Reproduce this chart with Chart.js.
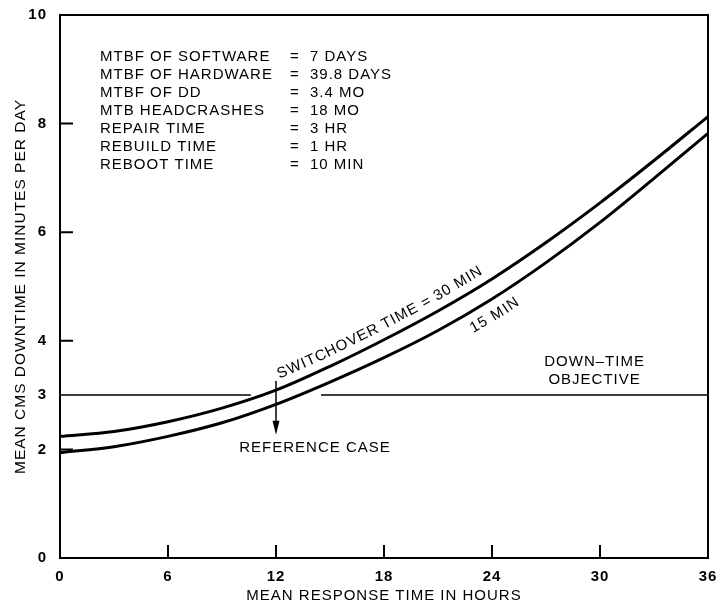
<!DOCTYPE html>
<html>
<head>
<meta charset="utf-8">
<script src="https://cdn.jsdelivr.net/npm/chart.js@4.4.1/dist/chart.umd.min.js"></script>
<style>
  html, body { margin: 0; padding: 0; background: #fff; overflow: hidden; }
  #wrap { width: 721px; height: 605px; }
</style>
</head>
<body>
<div id="wrap"><canvas id="chart"></canvas></div>
<script>
// mean response time in hours
const hours = [0, 3, 6, 9, 12, 15, 18, 21, 24, 27, 30, 33, 36];
// mean CMS downtime (min/day) for switchover time = 30 min and 15 min
const switch30 = [2.24, 2.33, 2.51, 2.76, 3.09, 3.53, 4.02, 4.55, 5.14, 5.81, 6.54, 7.32, 8.13];
const switch15 = [1.94, 2.05, 2.24, 2.49, 2.83, 3.24, 3.69, 4.19, 4.77, 5.44, 6.18, 6.99, 7.82];

// down-time objective, broken where the curves pass through it
const objectiveLevel = 3;
const objectiveLeftX = [0, 10.6];
const objectiveRightX = [14.5, 36];

// reference case arrow (x, top, tip)
const refCaseX = 12;
const refCaseY = [3.26, 2.27];

const xTicks = [0, 6, 12, 18, 24, 30, 36];
const yTicks = [0, 2, 3, 4, 6, 8, 10];
const xInnerTicks = [6, 12, 18, 24, 30];
const yInnerTicks = [2, 4, 6, 8];

const paramNames = ['MTBF OF SOFTWARE', 'MTBF OF HARDWARE', 'MTBF OF DD', 'MTB HEADCRASHES',
  'REPAIR TIME', 'REBUILD TIME', 'REBOOT TIME'];
const paramValues = ['7 DAYS', '39.8 DAYS', '3.4 MO', '18 MO', '3 HR', '1 HR', '10 MIN'];

const FAMILY = '"Liberation Sans", Arial, Helvetica, sans-serif';
const FONT = '15px ' + FAMILY;

// writes text letter by letter along a polyline (pixel points)
function textOnCurve(ctx, text, pts, startPx, offset, spacing) {
  const cum = [0];
  for (let i = 1; i < pts.length; i++) {
    cum.push(cum[i - 1] + Math.hypot(pts[i].x - pts[i - 1].x, pts[i].y - pts[i - 1].y));
  }
  const pointAt = s => {
    let i = 1;
    while (i < pts.length - 1 && cum[i] < s) i++;
    const t = (s - cum[i - 1]) / (cum[i] - cum[i - 1]);
    return { x: pts[i - 1].x + t * (pts[i].x - pts[i - 1].x), y: pts[i - 1].y + t * (pts[i].y - pts[i - 1].y) };
  };
  let s = 0;
  for (let i = 1; i < pts.length; i++) {
    if (pts[i].x >= startPx) {
      s = cum[i - 1] + (startPx - pts[i - 1].x) / (pts[i].x - pts[i - 1].x) * (cum[i] - cum[i - 1]);
      break;
    }
  }
  ctx.textAlign = 'center';
  ctx.textBaseline = 'alphabetic';
  for (const ch of text) {
    const w = ctx.measureText(ch).width;
    const mid = s + w / 2;
    const p = pointAt(mid), p0 = pointAt(mid - 7), p1 = pointAt(mid + 7);
    const ang = Math.atan2(p1.y - p0.y, p1.x - p0.x);
    ctx.save();
    ctx.translate(p.x, p.y);
    ctx.rotate(ang);
    ctx.fillText(ch, 0, offset);
    ctx.restore();
    s += w + spacing;
  }
}

const annotations = {
  id: 'annotations',
  beforeDraw(chart) {
    const ctx = chart.ctx;
    ctx.save();
    ctx.fillStyle = '#fff';
    ctx.fillRect(0, 0, chart.width, chart.height);
    ctx.restore();
    ctx.letterSpacing = '1px';
  },
  afterDatasetsDraw(chart) {
    const { ctx, chartArea: a, scales: { x, y } } = chart;
    ctx.save();
    ctx.strokeStyle = '#000';
    ctx.fillStyle = '#000';

    // frame
    ctx.lineWidth = 2;
    ctx.strokeRect(a.left, a.top, a.right - a.left, a.bottom - a.top);

    // inner tick marks
    ctx.beginPath();
    xInnerTicks.forEach(v => {
      const px = x.getPixelForValue(v);
      ctx.moveTo(px, a.bottom);
      ctx.lineTo(px, a.bottom - 13);
    });
    yInnerTicks.forEach(v => {
      const py = y.getPixelForValue(v);
      ctx.moveTo(a.left, py);
      ctx.lineTo(a.left + 13, py);
    });
    ctx.stroke();

    // reference case arrow
    const ax = x.getPixelForValue(refCaseX);
    const aTop = y.getPixelForValue(refCaseY[0]);
    const aTip = y.getPixelForValue(refCaseY[1]);
    ctx.lineWidth = 1.5;
    ctx.beginPath();
    ctx.moveTo(ax, aTop);
    ctx.lineTo(ax, aTip - 10);
    ctx.stroke();
    ctx.beginPath();
    ctx.moveTo(ax, aTip);
    ctx.lineTo(ax - 3.5, aTip - 14);
    ctx.lineTo(ax + 3.5, aTip - 14);
    ctx.closePath();
    ctx.fill();

    ctx.font = FONT;
    ctx.letterSpacing = '1px';
    ctx.textBaseline = 'middle';

    // parameter block
    paramNames.forEach((name, i) => {
      const ty = a.top + 42 + i * 18;
      ctx.textAlign = 'left';
      ctx.fillText(name, a.left + 40, ty);
      ctx.fillText('=', a.left + 230, ty);
      ctx.fillText(paramValues[i], a.left + 250, ty);
    });

    // reference case
    ctx.textAlign = 'center';
    ctx.fillText('REFERENCE CASE', ax + 39, aTip + 13);

    // objective label
    const oy = y.getPixelForValue(objectiveLevel);
    ctx.fillText('DOWN\u2013TIME', x.getPixelForValue(29.7), oy - 33);
    ctx.fillText('OBJECTIVE', x.getPixelForValue(29.7), oy - 15);

    // curve labels
    ctx.letterSpacing = '0px';
    const up = hours.map((h, i) => ({ x: x.getPixelForValue(h), y: y.getPixelForValue(switch30[i]) }));
    const lo = hours.map((h, i) => ({ x: x.getPixelForValue(h), y: y.getPixelForValue(switch15[i]) }));
    textOnCurve(ctx, 'SWITCHOVER TIME = 30 MIN', up, x.getPixelForValue(12.4), -9, 1);
    textOnCurve(ctx, '15 MIN', lo, x.getPixelForValue(22.4), 20, 1);

    ctx.restore();
  }
};

const curve = (xs, ys) => xs.map((h, i) => ({ x: h, y: ys[i] }));

new Chart(document.getElementById('chart'), {
  type: 'line',
  data: {
    datasets: [
      {
        label: 'Switchover time = 30 min',
        data: curve(hours, switch30),
        borderColor: '#000',
        borderWidth: 3,
        pointRadius: 0,
        cubicInterpolationMode: 'monotone'
      },
      {
        label: '15 min',
        data: curve(hours, switch15),
        borderColor: '#000',
        borderWidth: 3,
        pointRadius: 0,
        cubicInterpolationMode: 'monotone'
      },
      {
        label: 'Down-time objective',
        data: objectiveLeftX.map(v => ({ x: v, y: objectiveLevel })),
        borderColor: '#000',
        borderWidth: 1.5,
        pointRadius: 0
      },
      {
        label: 'Down-time objective (right)',
        data: objectiveRightX.map(v => ({ x: v, y: objectiveLevel })),
        borderColor: '#000',
        borderWidth: 1.5,
        pointRadius: 0
      }
    ]
  },
  options: {
    responsive: true,
    maintainAspectRatio: false,
    animation: false,
    devicePixelRatio: 1,
    layout: { padding: { top: 15, right: 13, left: 0, bottom: 0 } },
    plugins: {
      legend: { display: false },
      tooltip: { enabled: false }
    },
    scales: {
      x: {
        type: 'linear',
        min: 0,
        max: 36,
        afterBuildTicks: s => { s.ticks = xTicks.map(v => ({ value: v })); },
        afterFit: s => { s.height = 47; s.paddingLeft = 0; s.paddingRight = 0; },
        grid: { display: false, drawTicks: false },
        border: { display: false },
        ticks: { autoSkip: false, maxRotation: 0, padding: 10, color: '#000', font: { family: FAMILY, size: 15, weight: 'bold' } },
        title: {
          display: true,
          text: 'MEAN RESPONSE TIME IN HOURS',
          color: '#000',
          font: { family: FAMILY, size: 15 },
          padding: { top: 0, bottom: 0 }
        }
      },
      y: {
        min: 0,
        max: 10,
        afterBuildTicks: s => { s.ticks = yTicks.map(v => ({ value: v })); },
        afterFit: s => { s.width = 60; s.paddingTop = 0; s.paddingBottom = 0; },
        grid: { display: false, drawTicks: false },
        border: { display: false },
        ticks: { autoSkip: false, padding: 13, color: '#000', font: { family: FAMILY, size: 15, weight: 'bold' } },
        title: {
          display: true,
          text: 'MEAN CMS DOWNTIME IN MINUTES PER DAY',
          color: '#000',
          font: { family: FAMILY, size: 15.5 },
          padding: { top: 11, bottom: 0 }
        }
      }
    }
  },
  plugins: [annotations]
});
</script>
</body>
</html>
